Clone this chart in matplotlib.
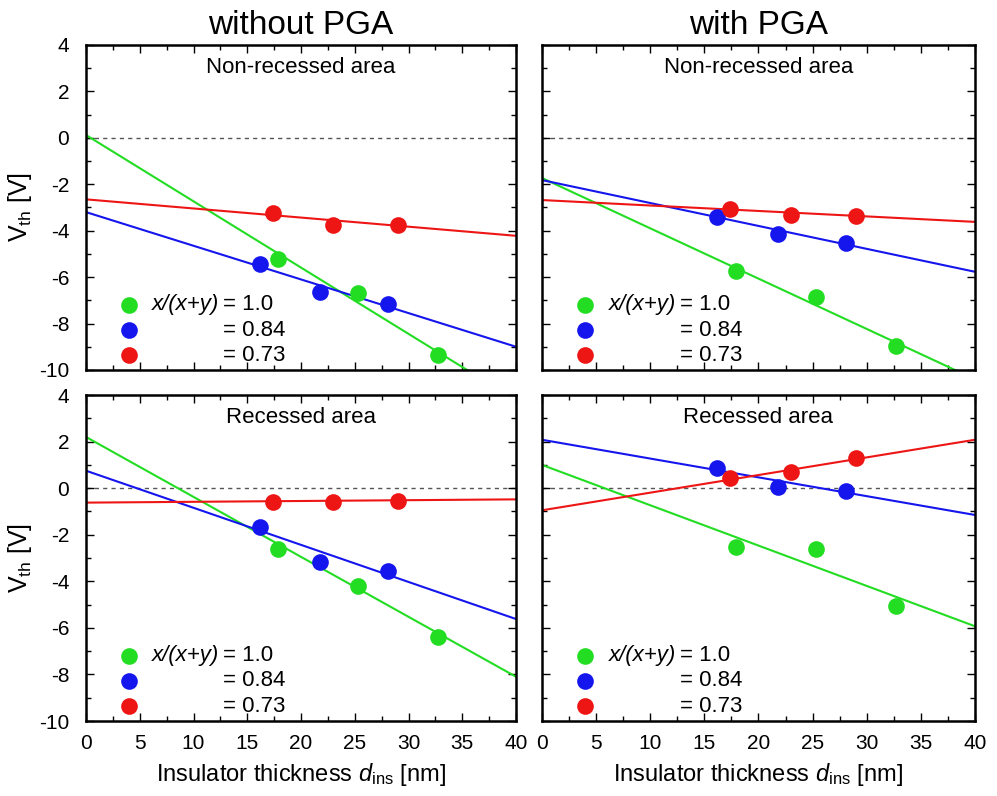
import matplotlib
matplotlib.use("Agg")
import matplotlib.pyplot as plt
from matplotlib.ticker import MultipleLocator

plt.rcParams['font.family'] = ['Liberation Sans', 'DejaVu Sans']
plt.rcParams['mathtext.fontset'] = 'custom'
plt.rcParams['mathtext.rm'] = 'Liberation Sans'
plt.rcParams['mathtext.it'] = 'Liberation Sans:italic'
plt.rcParams['axes.unicode_minus'] = False

# ---- data ----
column_titles = ["without PGA", "with PGA"]
row_titles = ["Non-recessed area", "Recessed area"]
ratio_labels = ["= 1.0", "= 0.84", "= 0.73"]
colors = ["#22dd22", "#1515ee", "#ee1515"]

# thickness (nm) of the measured samples, per composition (green, blue, red)
d_green = [17.9, 25.3, 32.7]
d_blue = [16.2, 21.8, 28.1]
d_red = [17.4, 23.0, 29.0]

# Vth (V): non-recessed without PGA
vth_nr_nopga_green = [-5.2, -6.7, -9.35]
vth_nr_nopga_blue = [-5.45, -6.65, -7.15]
vth_nr_nopga_red = [-3.25, -3.75, -3.75]
# non-recessed with PGA
vth_nr_pga_green = [-5.75, -6.85, -8.95]
vth_nr_pga_blue = [-3.4, -4.15, -4.55]
vth_nr_pga_red = [-3.08, -3.33, -3.35]
# recessed without PGA
vth_r_nopga_green = [-2.6, -4.2, -6.38]
vth_r_nopga_blue = [-1.65, -3.15, -3.55]
vth_r_nopga_red = [-0.58, -0.6, -0.55]
# recessed with PGA
vth_r_pga_green = [-2.52, -2.62, -5.08]
vth_r_pga_blue = [0.88, 0.05, -0.12]
vth_r_pga_red = [0.42, 0.68, 1.3]

# fit lines: Vth at d=0 and at d=40 nm (green, blue, red)
fit_nr_nopga = [(0.12, -11.3), (-3.2, -9.0), (-2.65, -4.22)]
fit_nr_pga = [(-1.73, -10.4), (-1.82, -5.77), (-2.68, -3.62)]
fit_r_nopga = [(2.2, -8.1), (0.75, -5.62), (-0.62, -0.48)]
fit_r_pga = [(1.0, -5.93), (2.08, -1.15), (-0.95, 2.08)]

panels = [
    [(vth_nr_nopga_green, vth_nr_nopga_blue, vth_nr_nopga_red), fit_nr_nopga],
    [(vth_nr_pga_green, vth_nr_pga_blue, vth_nr_pga_red), fit_nr_pga],
    [(vth_r_nopga_green, vth_r_nopga_blue, vth_r_nopga_red), fit_r_nopga],
    [(vth_r_pga_green, vth_r_pga_blue, vth_r_pga_red), fit_r_pga],
]
thick = [d_green, d_blue, d_red]

fig = plt.figure(figsize=(9.97, 7.96), dpi=100)
lefts = [0.0863, 0.5436]
widths = [0.4313, 0.4343]
bottoms = [0.5352, 0.0942]
heights = [0.4083, 0.4095]

for i, (vals, fits) in enumerate(panels):
    r, c = divmod(i, 2)
    ax = fig.add_axes([lefts[c], bottoms[r], widths[c], heights[r]])
    ax.set_xlim(0, 40)
    ax.set_ylim(-10, 4)

    ax.axhline(0, color="#555555", lw=1.0, ls=(0, (3, 3)), zorder=1)

    for k in range(3):
        ax.plot([0, 40], fits[k], color=colors[k], lw=1.5, zorder=2)
        ax.plot(thick[k], vals[k], 'o', color=colors[k], ms=12, mec='none', zorder=3)

    ax.text(0.5, 0.93, row_titles[r], transform=ax.transAxes, ha='center', va='center', fontsize=16)

    # legend
    ys = [0.2, 0.123, 0.046]
    for k in range(3):
        ax.plot([0.1], [ys[k]], 'o', color=colors[k], ms=12, mec='none', transform=ax.transAxes, clip_on=False)
        ax.text(0.318, ys[k], ratio_labels[k], transform=ax.transAxes, ha='left', va='center', fontsize=16)
    ax.text(0.31, ys[0], 'x/(x+y)', style='italic', transform=ax.transAxes, ha='right', va='center', fontsize=16)

    ax.xaxis.set_major_locator(MultipleLocator(5))
    ax.xaxis.set_minor_locator(MultipleLocator(2.5))
    ax.yaxis.set_major_locator(MultipleLocator(2))
    ax.yaxis.set_minor_locator(MultipleLocator(1))
    ax.tick_params(which='both', direction='in', top=True, right=True, width=1.0)
    ax.tick_params(which='major', length=6)
    ax.tick_params(which='minor', length=3.5)
    ax.tick_params(axis='y', pad=12, labelsize=15)
    ax.tick_params(axis='x', pad=9, labelsize=15)
    for s in ax.spines.values():
        s.set_linewidth(1.8)

    if c == 1:
        ax.set_yticklabels([])
    else:
        ax.set_ylabel(r'V$_{\rm th}$ [V]', fontsize=18, labelpad=4)
    if r == 0:
        ax.set_xticklabels([])
        ax.set_title(column_titles[c], fontsize=24, pad=8)
    else:
        ax.set_xlabel(r'Insulator thickness $d_{\rm ins}$ [nm]', fontsize=17, labelpad=6)

fig.savefig("out.png", dpi=100)
